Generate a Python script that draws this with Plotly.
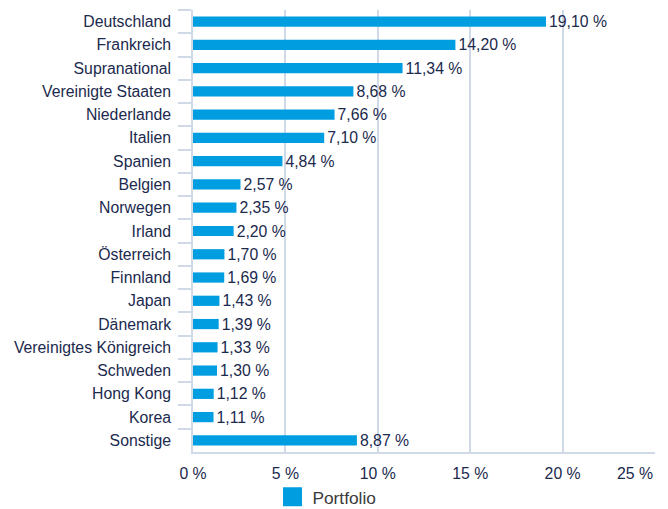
import plotly.graph_objects as go

countries = ["Deutschland", "Frankreich", "Supranational", "Vereinigte Staaten", "Niederlande",
             "Italien", "Spanien", "Belgien", "Norwegen", "Irland", "Österreich", "Finnland",
             "Japan", "Dänemark", "Vereinigtes Königreich", "Schweden", "Hong Kong", "Korea", "Sonstige"]
values = [19.10, 14.20, 11.34, 8.68, 7.66, 7.10, 4.84, 2.57, 2.35, 2.20, 1.70, 1.69,
          1.43, 1.39, 1.33, 1.30, 1.12, 1.11, 8.87]
x_ticks = [0, 5, 10, 15, 20, 25]
x_tick_labels = ["0 %", "5 %", "10 %", "15 %", "20 %", "25 %"]
series_name = "Portfolio"

BLUE = "#009ee0"
TEXT = "#1b2a4e"
GRID = "#cfd9e8"
FS = 15.8

# the last tick label is right-aligned to the plot edge (as in the reference)
tick_text = x_tick_labels[:-1] + [""]

fig = go.Figure()
fig.add_trace(go.Bar(
    y=countries, x=values, orientation="h",
    marker=dict(color=BLUE, line=dict(width=0)),
    text=values, texttemplate="%{x:.2f} %", textposition="outside",
    constraintext="none",
    textfont=dict(color=TEXT, size=FS), cliponaxis=False,
    showlegend=False, name=series_name,
))
fig.add_trace(go.Scatter(
    x=[None], y=[None], mode="markers", name=series_name,
    marker=dict(symbol="square", size=16, color=BLUE, line=dict(color=BLUE, width=3)),
))

fig.add_annotation(
    x=x_ticks[-1], xref="x", y=0, yref="paper", text=x_tick_labels[-1],
    xanchor="right", yanchor="top", yshift=-11, showarrow=False,
    font=dict(size=FS, color=TEXT),
)

fig.update_layout(
    width=660, height=501,
    margin=dict(l=185, r=13, t=2, b=57, autoexpand=False),
    paper_bgcolor="white", plot_bgcolor="white",
    separators=",.",
    font=dict(family="Liberation Sans, Arial, sans-serif", size=FS, color=TEXT),
    bargap=0.56,
    showlegend=True,
    legend=dict(orientation="h", x=0.29, xanchor="center", y=-0.102, yanchor="middle",
                font=dict(size=17.3, color="#3a3a3a"), itemsizing="trace"),
    xaxis=dict(range=[0, 25], tickvals=x_ticks, ticktext=tick_text, showgrid=True,
               gridcolor=GRID, gridwidth=1.5, zeroline=False, automargin=False,
               ticklabelstandoff=6,
               showline=True, linecolor=GRID, linewidth=1.5, ticks="",
               tickfont=dict(size=FS, color=TEXT)),
    yaxis=dict(autorange="reversed", showline=True, linecolor=GRID, linewidth=1.5,
               ticks="outside", tickson="boundaries", ticklen=13, tickcolor=GRID,
               automargin=False, ticklabelstandoff=17,
               tickwidth=1.5, tickfont=dict(size=FS, color=TEXT), showgrid=False),
)
fig.write_html("out.html")
